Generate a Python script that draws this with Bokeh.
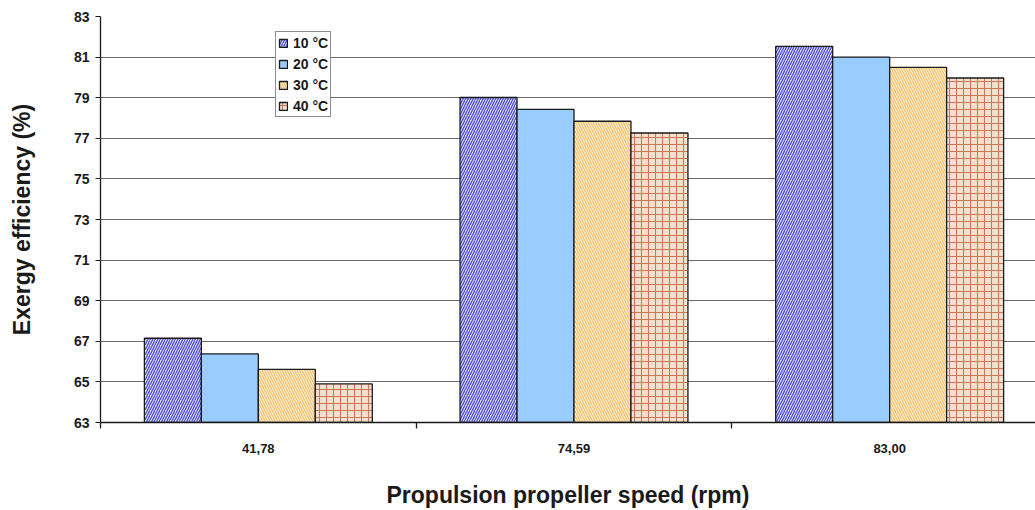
from bokeh.plotting import figure
from bokeh.models import (ColumnDataSource, Range1d, FixedTicker, Legend, LegendItem)
from bokeh.embed import file_html
from bokeh.resources import INLINE

# Propeller speeds (rpm) and exergy efficiency (%) per sea-water temperature
speeds = ["41,78", "74,59", "83,00"]
temps = ["10 °C", "20 °C", "30 °C", "40 °C"]
eff_10 = [67.15, 79.01, 81.53]
eff_20 = [66.38, 78.42, 81.00]
eff_30 = [65.62, 77.84, 80.49]
eff_40 = [64.90, 77.26, 79.97]
y_ticks = list(range(63, 84, 2))

series = [eff_10, eff_20, eff_30, eff_40]
styles = [
    dict(fill_color="#e2e2ff", hatch_pattern="/", hatch_color="#4c4cd2", hatch_scale=5, hatch_weight=1.3),
    dict(fill_color="#99ccff", hatch_pattern=None, hatch_color=None, hatch_scale=4, hatch_weight=1),
    dict(fill_color="#fff6dc", hatch_pattern="\\", hatch_color="#f4c070", hatch_scale=5, hatch_weight=1.3),
    dict(fill_color="#f4e0d0", hatch_pattern="+", hatch_color="#c87a58", hatch_scale=7, hatch_weight=1.1),
]

bar_w = 0.1805
centers = [i + 0.5 for i in range(len(speeds))]

p = figure(width=1035, height=510, output_backend="svg", toolbar_location=None,
           x_range=Range1d(0, 2.962), y_range=Range1d(63, 83),
           min_border_left=100, min_border_right=0, min_border_top=16, min_border_bottom=86)
p.outline_line_color = None
p.background_fill_color = "white"

renderers = []
for k, (vals, st) in enumerate(zip(series, styles)):
    xs = [c + (k - 1.5) * bar_w for c in centers]
    src = ColumnDataSource(dict(x=xs, top=vals))
    kw = dict(x="x", top="top", bottom=63, width=bar_w, source=src,
              fill_color=st["fill_color"], line_color="#1a1a1a", line_width=1.3)
    if st["hatch_pattern"]:
        kw.update(hatch_pattern=st["hatch_pattern"], hatch_color=st["hatch_color"],
                  hatch_scale=st["hatch_scale"], hatch_weight=st["hatch_weight"])
    renderers.append(p.vbar(**kw))

# y axis
p.yaxis.ticker = FixedTicker(ticks=y_ticks, minor_ticks=[])
p.yaxis.axis_label = "Exergy efficiency (%)"
p.yaxis.axis_label_text_font = "Liberation Sans"
p.yaxis.axis_label_text_font_style = "bold"
p.yaxis.axis_label_text_font_size = "23px"
p.yaxis.axis_label_text_color = "#1a1a1a"
p.yaxis.axis_label_standoff = 36
p.yaxis.major_label_text_font = "Liberation Sans"
p.yaxis.major_label_text_font_style = "bold"
p.yaxis.major_label_text_font_size = "14px"
p.yaxis.major_label_text_color = "#1a1a1a"
p.yaxis.major_label_standoff = 6
p.yaxis.major_tick_out = 5
p.yaxis.major_tick_in = 0
p.yaxis.axis_line_color = "#1a1a1a"
p.yaxis.axis_line_width = 1.3
p.yaxis.major_tick_line_color = "#1a1a1a"

# x axis: labels at category centres, tick marks at category boundaries
p.xaxis.ticker = FixedTicker(ticks=centers, minor_ticks=[0, 1, 2, 3])
p.xaxis.major_label_overrides = {c: s for c, s in zip(centers, speeds)}
p.xaxis.major_tick_out = 0
p.xaxis.major_tick_in = 0
p.xaxis.minor_tick_out = 6
p.xaxis.minor_tick_in = 0
p.xaxis.minor_tick_line_color = "#1a1a1a"
p.xaxis.minor_tick_line_width = 1.3
p.xaxis.major_label_standoff = 15
p.xaxis.major_label_text_font = "Liberation Sans"
p.xaxis.major_label_text_font_style = "bold"
p.xaxis.major_label_text_font_size = "13px"
p.xaxis.major_label_text_color = "#1a1a1a"
p.xaxis.axis_label = "Propulsion propeller speed (rpm)"
p.xaxis.axis_label_text_font = "Liberation Sans"
p.xaxis.axis_label_text_font_style = "bold"
p.xaxis.axis_label_text_font_size = "23px"
p.xaxis.axis_label_text_color = "#1a1a1a"
p.xaxis.axis_label_standoff = 26
p.xaxis.axis_line_color = "#1a1a1a"
p.xaxis.axis_line_width = 1.3

p.xgrid.grid_line_color = None
p.ygrid.ticker = FixedTicker(ticks=y_ticks)
p.ygrid.grid_line_color = "#6a6a6a"
p.ygrid.grid_line_width = 1

legend = Legend(items=[LegendItem(label=t, renderers=[r]) for t, r in zip(temps, renderers)],
                location=(175, 305))
legend.border_line_color = "#1a1a1a"
legend.border_line_width = 1.3
legend.label_text_font = "Liberation Sans"
legend.label_text_font_style = "bold"
legend.label_text_font_size = "14px"
legend.label_text_color = "#1a1a1a"
legend.glyph_width = 10
legend.glyph_height = 10
legend.label_height = 17
legend.spacing = 4
legend.padding = 2
legend.margin = 0
legend.label_standoff = 5
p.add_layout(legend)

open("out.html", "w").write(file_html(p, INLINE))
